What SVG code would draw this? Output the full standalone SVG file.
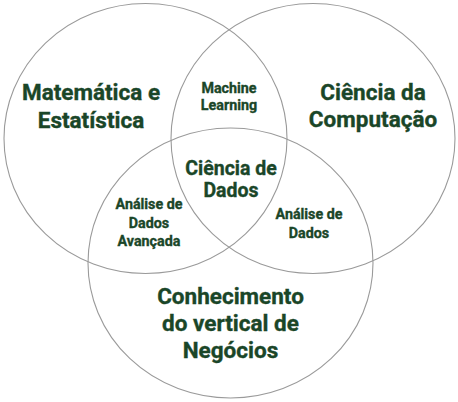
<svg xmlns="http://www.w3.org/2000/svg" width="458" height="402" viewBox="0 0 458 402">
<style>
.c{fill:none;stroke:#9a9a9a;stroke-width:1.1}
text{font-family:Roboto,"Liberation Sans",sans-serif;font-weight:700;fill:#1a4628;text-anchor:middle;stroke:#1a4628;stroke-width:0.35}
.L{font-size:22.5px}
.M{font-size:19.5px}
.S{font-size:14.3px}
</style>
<rect width="458" height="402" fill="#ffffff"/>
<g id="connectors"></g>
<g id="circle-matematica"><ellipse class="c" cx="145.5" cy="138.5" rx="141.5" ry="135"/></g>
<g id="circle-computacao"><ellipse class="c" cx="313" cy="138.5" rx="142" ry="135"/></g>
<g id="circle-negocios"><ellipse class="c" cx="230.5" cy="263" rx="142.5" ry="135"/></g>
<g id="matematica"><text class="L" x="91" y="100">Matemática e</text><text class="L" x="91" y="128">Estatística</text></g>
<g id="computacao"><text class="L" x="373" y="100">Ciência da</text><text class="L" x="373" y="127">Computação</text></g>
<g id="machine-learning"><text class="S" x="229" y="93">Machine</text><text class="S" x="229" y="110">Learning</text></g>
<g id="ciencia-dados"><text class="M" x="231" y="175">Ciência de</text><text class="M" x="231" y="197">Dados</text></g>
<g id="analise-avancada"><text class="S" x="149" y="209">Análise de</text><text class="S" x="149" y="228">Dados</text><text class="S" x="149" y="246">Avançada</text></g>
<g id="analise-dados"><text class="S" x="309" y="219">Análise de</text><text class="S" x="309" y="238">Dados</text></g>
<g id="negocios"><text class="L" x="230.5" y="304">Conhecimento</text><text class="L" x="230.5" y="331">do vertical de</text><text class="L" x="230.5" y="358">Negócios</text></g>
</svg>
